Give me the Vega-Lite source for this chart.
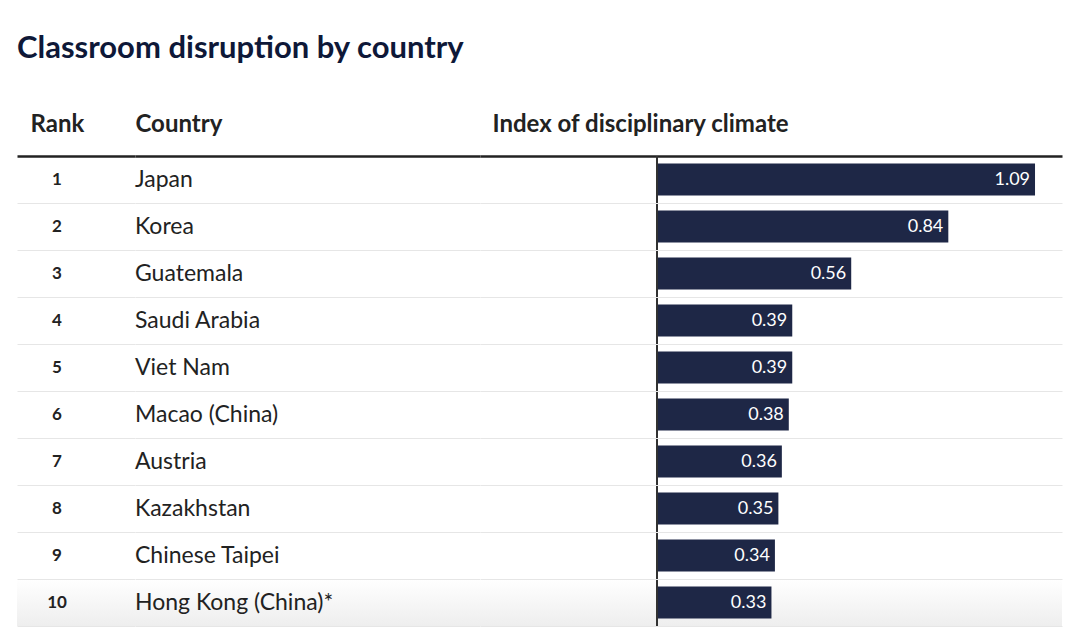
{
  "$schema": "https://vega.github.io/schema/vega-lite/v6.json",
  "padding": {"left": 17, "right": 18, "top": 33, "bottom": 0},
  "background": "white",
  "title": {"text": "Classroom disruption by country", "anchor": "start", "fontSize": 31, "fontWeight": "bold", "color": "#0e1838", "font": "Lato", "offset": 47},
  "data": {"values": [
    {"rank": 1, "country": "Japan", "value": 1.09},
    {"rank": 2, "country": "Korea", "value": 0.84},
    {"rank": 3, "country": "Guatemala", "value": 0.56},
    {"rank": 4, "country": "Saudi Arabia", "value": 0.39},
    {"rank": 5, "country": "Viet Nam", "value": 0.39},
    {"rank": 6, "country": "Macao (China)", "value": 0.38},
    {"rank": 7, "country": "Austria", "value": 0.36},
    {"rank": 8, "country": "Kazakhstan", "value": 0.35},
    {"rank": 9, "country": "Chinese Taipei", "value": 0.34},
    {"rank": 10, "country": "Hong Kong (China)*", "value": 0.33}
  ]},
  "spacing": 0,
  "hconcat": [
    {
      "width": 118, "height": 470,
      "encoding": {
        "y": {"field": "country", "type": "nominal", "sort": ["Japan", "Korea", "Guatemala", "Saudi Arabia", "Viet Nam", "Macao (China)", "Austria", "Kazakhstan", "Chinese Taipei", "Hong Kong (China)*"], "scale": {"type": "band", "paddingInner": 0, "paddingOuter": 0}, "axis": {"labels": false, "ticks": false, "domain": false, "grid": true, "gridColor": "#e6e6e6", "gridWidth": 1, "bandPosition": 1, "title": null}}
      },
      "layer": [
        {
          "transform": [{"filter": "datum.rank == 10"}],
          "mark": {"type": "rect", "color": {"gradient": "linear", "x1": 0, "y1": 0, "x2": 0, "y2": 1, "stops": [{"offset": 0, "color": "#ffffff"}, {"offset": 1, "color": "#eeeeee"}]}}
        },
        {
          "mark": {"type": "text", "font": "Lato", "fontSize": 17, "fontWeight": "bold", "color": "#222222", "baseline": "middle"},
          "encoding": {
            "x": {"datum": 0.339, "scale": {"domain": [0, 1], "nice": false}, "axis": {"orient": "top", "title": "Rank", "titleX": 13, "titleAlign": "left"}},
            "text": {"field": "rank", "type": "nominal"}
          }
        }
      ]
    },
    {
      "width": 345, "height": 470,
      "encoding": {
        "y": {"field": "country", "type": "nominal", "sort": ["Japan", "Korea", "Guatemala", "Saudi Arabia", "Viet Nam", "Macao (China)", "Austria", "Kazakhstan", "Chinese Taipei", "Hong Kong (China)*"], "scale": {"type": "band", "paddingInner": 0, "paddingOuter": 0}, "axis": {"labels": false, "ticks": false, "domain": false, "grid": true, "gridColor": "#e6e6e6", "gridWidth": 1, "bandPosition": 1, "title": null}}
      },
      "layer": [
        {
          "transform": [{"filter": "datum.rank == 10"}],
          "mark": {"type": "rect", "color": {"gradient": "linear", "x1": 0, "y1": 0, "x2": 0, "y2": 1, "stops": [{"offset": 0, "color": "#ffffff"}, {"offset": 1, "color": "#eeeeee"}]}}
        },
        {
          "mark": {"type": "text", "font": "Lato", "fontSize": 23, "color": "#222222", "align": "left", "baseline": "middle"},
          "encoding": {
            "x": {"datum": 0, "scale": {"domain": [0, 1], "nice": false}, "axis": {"orient": "top", "title": "Country", "titleX": 0, "titleAlign": "left"}},
            "text": {"field": "country", "type": "nominal"}
          }
        }
      ]
    },
    {
      "width": 582, "height": 470,
      "encoding": {
        "y": {"field": "country", "type": "nominal", "sort": ["Japan", "Korea", "Guatemala", "Saudi Arabia", "Viet Nam", "Macao (China)", "Austria", "Kazakhstan", "Chinese Taipei", "Hong Kong (China)*"], "scale": {"type": "band", "paddingInner": 0, "paddingOuter": 0}, "axis": {"labels": false, "ticks": false, "domain": false, "grid": true, "gridColor": "#e6e6e6", "gridWidth": 1, "bandPosition": 1, "title": null}}
      },
      "layer": [
        {
          "transform": [{"filter": "datum.rank == 10"}],
          "mark": {"type": "rect", "color": {"gradient": "linear", "x1": 0, "y1": 0, "x2": 0, "y2": 1, "stops": [{"offset": 0, "color": "#ffffff"}, {"offset": 1, "color": "#eeeeee"}]}}
        },
        {
          "mark": {"type": "bar", "color": "#1e2746", "height": {"band": 0.68}},
          "encoding": {
            "x": {"field": "value", "type": "quantitative", "scale": {"domain": [-0.5104, 1.1678], "nice": false, "zero": false}, "axis": {"orient": "top", "title": "Index of disciplinary climate", "titleX": 12, "titleAlign": "left"}}
          }
        },
        {
          "mark": {"type": "text", "font": "Lato", "fontSize": 18, "color": "white", "align": "right", "baseline": "middle", "dx": -5},
          "encoding": {
            "x": {"field": "value", "type": "quantitative"},
            "text": {"field": "value", "type": "quantitative", "format": ".2f"}
          }
        },
        {
          "mark": {"type": "rule", "color": "#333333", "strokeWidth": 1.2},
          "encoding": {"x": {"datum": 0}, "y": null}
        }
      ]
    }
  ],
  "config": {
    "view": {"stroke": null},
    "axisX": {"labels": false, "ticks": false, "grid": false, "domain": true, "domainColor": "#222222", "domainWidth": 2.5, "titleFont": "Lato", "titleFontSize": 24, "titleFontWeight": "bold", "titleColor": "#222222", "titlePadding": 20}
  }
}
